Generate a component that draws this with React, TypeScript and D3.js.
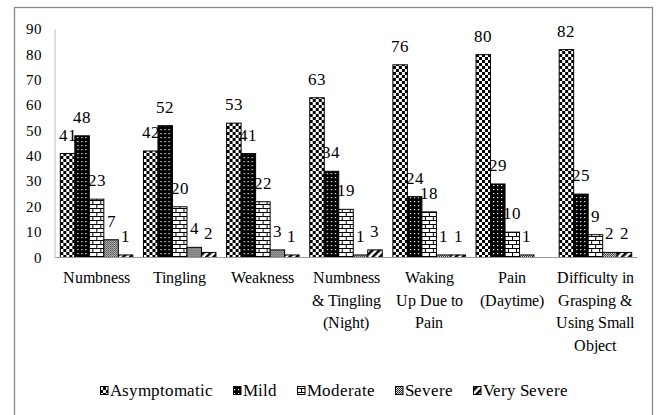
import { useEffect, useRef } from 'react'
import * as d3 from 'd3'

// Symptom severity counts per symptom
const categories = [
  'Numbness',
  'Tingling',
  'Weakness',
  'Numbness|& Tingling|(Night)',
  'Waking|Up Due to|Pain',
  'Pain|(Daytime)',
  'Difficulty in|Grasping &|Using Small|Object',
]
const seriesNames = ['Asymptomatic', 'Mild', 'Moderate', 'Severe', 'Very Severe']
const asymptomatic = [41, 42, 53, 63, 76, 80, 82]
const mild = [48, 52, 41, 34, 24, 29, 25]
const moderate = [23, 20, 22, 19, 18, 10, 9]
const severe = [7, 4, 3, 1, 1, 1, 2]
const verySevere: (number | null)[] = [1, 2, 1, 3, 1, null, 2]
const yTicks = [0, 10, 20, 30, 40, 50, 60, 70, 80, 90]

const W = 657
const H = 415
const PLOT = { left: 55, right: 637, top: 29.3, bottom: 257.5 }
const SERIF = "ChartSerif, 'Liberation Serif', 'Times New Roman', Tinos, serif"
const patternIds = ['p-asym', 'p-mild', 'p-mod', 'p-sev', 'p-vsev']

export default function App() {
  const svgRef = useRef<SVGSVGElement>(null)

  useEffect(() => {
    if (!svgRef.current) return
    const svg = d3.select(svgRef.current)
    svg.selectAll('*').remove()

    svg.append('style').text(`
      @font-face { font-family: ChartSerif; src: local('Liberation Serif'), local('LiberationSerif'), local('LiberationSerif-Regular'), local('Times New Roman'); }
      text { font-family: ${SERIF}; }
    `)

    const label = (parent: any, x: number, y: number, size: number, anchor: string, lines: string[], lh = 0) => {
      const t = parent.append('text').attr('x', x).attr('y', y)
        .attr('text-anchor', anchor).attr('font-size', size)
        .attr('font-family', SERIF).style('font-family', SERIF).attr('fill', '#000')
      lines.forEach((ln, i) => {
        t.append('tspan').attr('x', x).attr('dy', i === 0 ? 0 : lh).text(ln)
      })
      return (t.node() as SVGTextElement).getComputedTextLength()
    }

    // fill patterns
    const defs = svg.append('defs')
    const pat = (id: string, w: number, h: number, bg: string) => {
      const p = defs.append('pattern').attr('id', id)
        .attr('width', w).attr('height', h).attr('patternUnits', 'userSpaceOnUse')
      p.append('rect').attr('width', w).attr('height', h).attr('fill', bg)
      return p
    }
    const sq = (p: any, x: number, y: number, w: number, h: number, fill = '#000') =>
      p.append('rect').attr('x', x).attr('y', y).attr('width', w).attr('height', h).attr('fill', fill)

    const pA = pat('p-asym', 6, 6, '#fff'); sq(pA, 0, 0, 3, 3); sq(pA, 3, 3, 3, 3)
    const pM = pat('p-mild', 4, 4, '#000'); sq(pM, 1, 1, 1.2, 1.2, '#fff')
    const pMo = pat('p-mod', 8, 8, '#fff')
    sq(pMo, 0, 0, 8, 1); sq(pMo, 0, 4, 8, 1); sq(pMo, 0, 0, 1, 4); sq(pMo, 4, 4, 1, 4)
    const pS = pat('p-sev', 2, 2, '#ddd'); sq(pS, 0, 0, 1, 1, '#222'); sq(pS, 1, 1, 1, 1, '#444')
    const pV = pat('p-vsev', 5, 5, '#fff').attr('patternTransform', 'rotate(45)'); sq(pV, 0, 0, 2.5, 5)

    svg.append('rect').attr('width', W).attr('height', H).attr('fill', '#fff')
    svg.append('rect').attr('x', 14.5).attr('y', 7.5).attr('width', 638).attr('height', 430)
      .attr('fill', 'none').attr('stroke', '#8a8a8a').attr('stroke-width', 1.3)

    const series = [asymptomatic, mild, moderate, severe, verySevere]
    const x0 = d3.scaleBand<string>().domain(categories).range([PLOT.left, PLOT.right])
      .paddingInner(0.128).paddingOuter(0.064)
    const x1 = d3.scaleBand<number>().domain(d3.range(series.length)).range([0, x0.bandwidth()])
    const y = d3.scaleLinear().domain([0, 90]).range([PLOT.bottom, PLOT.top])

    // y axis
    svg.append('line').attr('x1', PLOT.left).attr('x2', PLOT.left)
      .attr('y1', PLOT.top).attr('y2', PLOT.bottom).attr('stroke', '#bdbdbd')
    yTicks.forEach(t => label(svg, 42, y(t) + 5, 15, 'end', [String(t)]))

    // bars
    categories.forEach((c, ci) => {
      const g = svg.append('g').attr('transform', `translate(${x0(c)},0)`)
      series.forEach((s, si) => {
        const v = s[ci]
        if (v == null) return
        g.append('rect')
          .attr('x', x1(si)!).attr('y', y(v))
          .attr('width', x1.bandwidth()).attr('height', y(0) - y(v))
          .attr('fill', `url(#${patternIds[si]})`).attr('stroke', '#000').attr('stroke-width', 1)
        label(g, x1(si)! + x1.bandwidth() / 2, y(v) - 13, 16.5, 'middle', [String(v)])
      })
    })

    svg.append('line').attr('x1', PLOT.left).attr('x2', PLOT.right)
      .attr('y1', PLOT.bottom).attr('y2', PLOT.bottom).attr('stroke', '#9a9a9a')

    // category labels
    categories.forEach(c => {
      label(svg, x0(c)! + x0.bandwidth() / 2, 283, 16, 'middle', c.split('|'), 22.5)
    })

    // legend: lay out items from measured text widths
    const lg = svg.append('g')
    let lx = 0
    seriesNames.forEach((n, i) => {
      const item = lg.append('g').attr('transform', `translate(${lx},0)`)
      item.append('rect').attr('x', 0.5).attr('y', 386.5).attr('width', 7.5).attr('height', 8)
        .attr('fill', `url(#${patternIds[i]})`).attr('stroke', '#000')
      const tw = label(item, 10, 396, 17, 'start', [n])
      lx += 10 + tw + 20
    })
    const total = lx - 20
    lg.attr('transform', `translate(${334 - total / 2},0)`)
  }, [])

  return (
    <svg ref={svgRef} width={W} height={H}
      style={{ position: 'absolute', left: 0, top: 0, background: '#fff' }} />
  )
}
